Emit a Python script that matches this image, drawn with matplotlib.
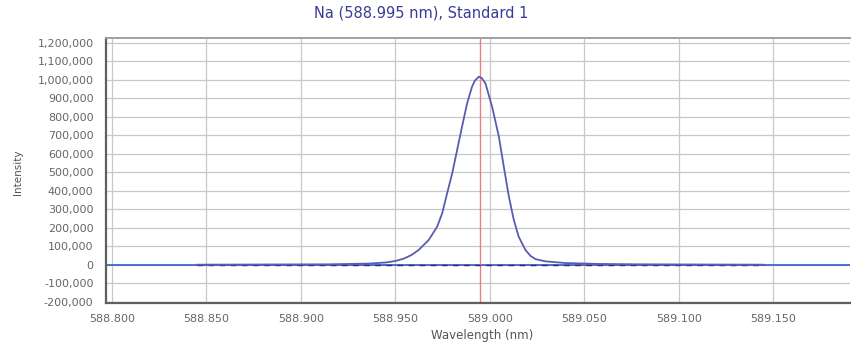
import matplotlib
matplotlib.use("Agg")
import matplotlib.pyplot as plt
from matplotlib.ticker import FuncFormatter, MultipleLocator

# Data
wavelength = [588.845, 588.880, 588.915, 588.936, 588.945, 588.950, 588.9545, 588.9585,
              588.9624, 588.9677, 588.9721, 588.9748, 588.9774, 588.9801, 588.9827,
              588.9853, 588.9880, 588.9906, 588.9921, 588.9942, 588.9958, 588.9977,
              589.0012, 589.0048, 589.0074, 589.0101, 589.0127, 589.0153, 589.0189,
              589.0215, 589.0242, 589.0295, 589.0400, 589.0580, 589.0800, 589.1100,
              589.1450]
intensity = [0, 1000, 2000, 6000, 12000, 20000, 33000, 52000,
             80000, 134000, 205000, 278000, 386000, 494000, 620000,
             746000, 872000, 962000, 995000, 1016000, 1008000, 980000,
             854000, 692000, 530000, 368000, 242000, 151000, 79000,
             48000, 30000, 18000, 9000, 4000, 2000, 1000,
             0]
peak_line = 588.995
title = "Na (588.995 nm), Standard 1"
xlabel = "Wavelength (nm)"
ylabel = "Intensity"
x_limits = (588.7968, 589.1907)
y_limits = (-207000, 1225000)

fig = plt.figure(figsize=(8.51, 3.44), dpi=100)
ax = fig.add_axes([106/851, 1-303/344, 744/851, (303-38)/344])

ax.set_xlim(*x_limits)
ax.set_ylim(*y_limits)
ax.xaxis.set_major_locator(MultipleLocator(0.05))
ax.yaxis.set_major_locator(MultipleLocator(100000))
ax.xaxis.set_major_formatter(FuncFormatter(lambda v, p: f"{v:.3f}"))
ax.yaxis.set_major_formatter(FuncFormatter(lambda v, p: f"{int(round(v)):,}"))
ax.grid(True, which="major", color="#c8c8c8", linewidth=0.9)
ax.set_axisbelow(True)

ax.tick_params(axis="both", length=0, labelsize=8, colors="#666666")
ax.tick_params(axis="x", pad=8)
ax.tick_params(axis="y", pad=9)

for side in ["left", "bottom"]:
    ax.spines[side].set_color("#606060")
    ax.spines[side].set_linewidth(1.6)
ax.spines["top"].set_color("#a0a0a0")
ax.spines["top"].set_linewidth(1.4)
ax.spines["right"].set_visible(False)

# zero line
ax.axhline(0, color="#4466cc", linewidth=1.3, zorder=2)
# red reference line
ax.axvline(peak_line, color="#e88080", linewidth=1.0, zorder=2)
# background (dashed)
ax.plot([wavelength[0], wavelength[-1]], [0, 0], color="#2a2a7a", linewidth=1.0,
        linestyle=(0, (4, 4)), zorder=3)
# spectrum
ax.plot(wavelength, intensity, color="#5a5cb0", linewidth=1.3, zorder=4,
        solid_joinstyle="round")

fig.text(0.495, 0.962, title, ha="center", va="center", fontsize=10.5, color="#3a3a9a")
fig.text(0.566, 0.024, xlabel, ha="center", va="center", fontsize=8.5, color="#555555")
fig.text(18/851, 0.5, ylabel, ha="center", va="center", rotation=90, fontsize=7.5, color="#555555")

fig.savefig("out.png", dpi=100)
